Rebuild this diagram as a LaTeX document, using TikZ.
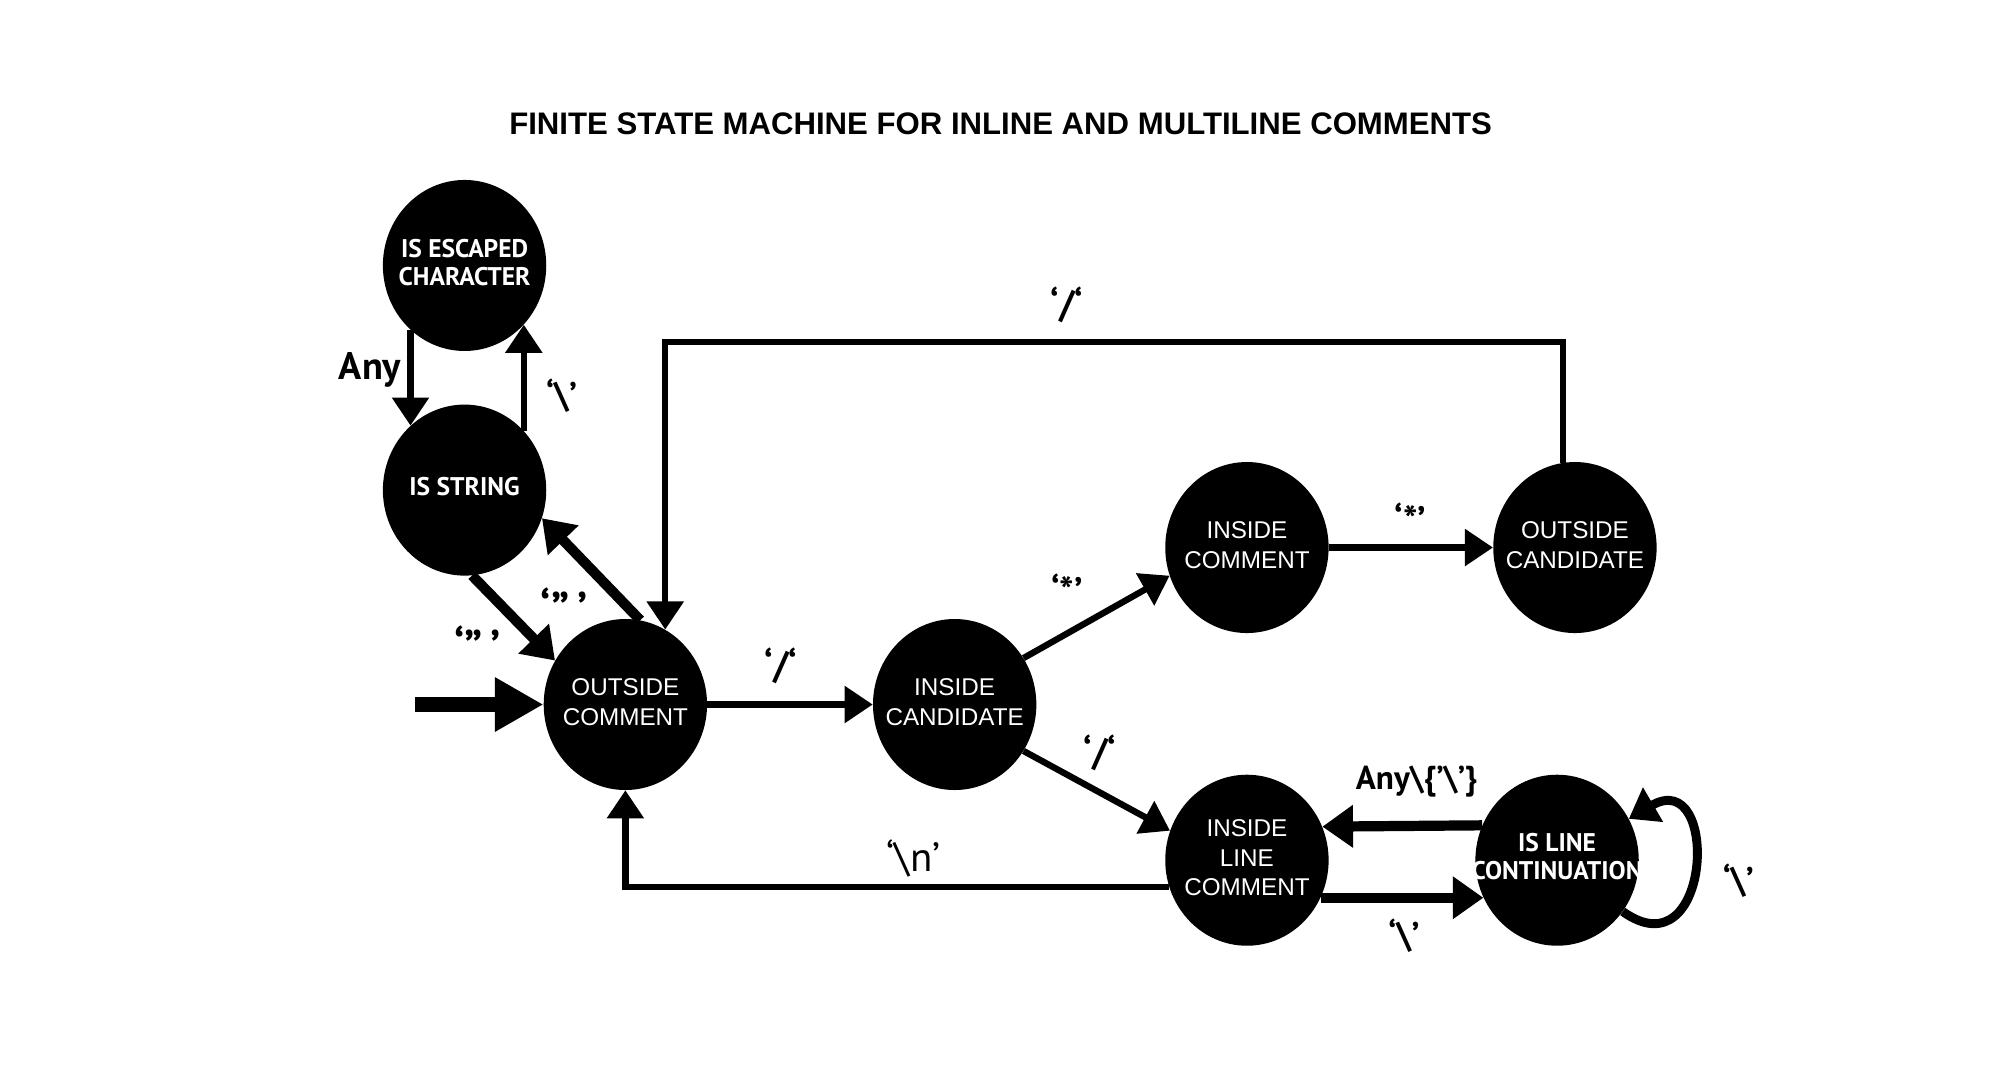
\documentclass[tikz,border=0pt]{standalone}
\usepackage{fontspec}
\setmainfont{Liberation Sans}
\newfontfamily\myr{PT Sans}
\usetikzlibrary{shapes.geometric,arrows.meta,calc}
\newcommand\zt[1]{\makebox[0pt]{\begin{tabular}{@{}c@{}}#1\end{tabular}}}
\tikzset{
  state/.style={ellipse,fill=black,text=white,minimum width=128pt,minimum height=134pt,inner sep=0pt,font=\fontsize{19}{23}\selectfont},
  stateb/.style={state,font=\myr\bfseries\fontsize{20}{22}\selectfont},
  edge/.style={line width=5pt,-{Triangle[length=22pt,width=28pt]}},
  thick edge/.style={line width=8pt,-{Triangle[length=24pt,width=32pt]}},
  lbl/.style={font=\myr\bfseries\fontsize{28}{30}\selectfont,inner sep=0pt},
  slbl/.style={font=\myr\bfseries\fontsize{30}{32}\selectfont,inner sep=0pt},
  qlbl/.style={font=\myr\bfseries\fontsize{36}{38}\selectfont,inner sep=0pt},
}
\begin{document}
\begin{tikzpicture}[x=1pt,y=-1pt]
\useasboundingbox[fill=white] (0,0) rectangle (1560,846.2);
\node[font=\bfseries\fontsize{24.4}{26}\selectfont,inner sep=0pt] (title) at (784,97) {FINITE STATE MACHINE FOR INLINE AND MULTILINE COMMENTS};

\node[stateb] (esc) at (364,208) {\zt{IS ESCAPED\\CHARACTER}};
\node[stateb] (str) at (364,384) {\zt{IS STRING}};
\node[state] (oc) at (490,552) {\zt{OUTSIDE\\COMMENT}};
\node[state] (ic) at (748,552) {\zt{INSIDE\\CANDIDATE}};
\node[state] (inc) at (977,429) {\zt{INSIDE\\COMMENT}};
\node[state] (ocd) at (1234,429) {\zt{OUTSIDE\\CANDIDATE}};
\node[state] (ilc) at (977,674) {\zt{INSIDE\\LINE\\COMMENT}};
\node[stateb] (isl) at (1220,674) {\zt{IS LINE\\CONTINUATION}};

\coordinate (start) at (325,552);
\draw[line width=12pt,-{Triangle[length=38pt,width=40pt]}] (start) -- (oc.west);

\draw[edge] (esc.230) -- (str.130);
\node[lbl,font=\myr\bfseries\fontsize{30}{32}\selectfont] (lany) at (290,290) {Any};
\draw[edge] (str.45) -- (esc.315);
\node[lbl] (lbs1) at (440,310) {‘\textbackslash’};

\draw[thick edge] (str.275) -- (oc.148);
\node[qlbl] (lq1) at (374,505) {‘”\,’};
\draw[thick edge] (oc.80) -- (str.-20);
\node[qlbl] (lq2) at (442,475) {‘”\,’};

\draw[edge] (oc) -- (ic);
\node[slbl] (ls1) at (612,522) {‘/‘};

\draw[edge] (ic.34) -- (inc.200);
\node[slbl] (lst1) at (836,462) {‘*’};
\draw[edge] (ic.-34) -- (ilc.159);
\node[slbl] (ls2) at (862,590) {‘/‘};

\draw[edge] (inc) -- (ocd);
\node[slbl] (lst2) at (1105,406) {‘*’};

\coordinate (topy) at (0,268);
\draw[edge] (ocd.98) |- (topy -| oc.62) -- (oc.62);
\node[slbl] (ls3) at (836,239) {‘/‘};

\draw[edge] (ilc.199) -| (oc.south);
\node[font=\myr\fontsize{32}{34}\selectfont,inner sep=0pt] (ln) at (716,673) {‘\textbackslash n’};

\draw[thick edge] (isl.155) -- (ilc.24);
\node[lbl,font=\myr\bfseries\fontsize{26}{28}\selectfont] (lany2) at (1110,612) {Any\textbackslash\{’\textbackslash’\}};
\draw[thick edge] (ilc.-27) -- (isl.-153);
\node[lbl] (lbs2) at (1100,733) {‘\textbackslash’};

\draw[line width=7pt,-{Triangle[length=22pt,width=30pt]}] (isl.-38) .. controls +(70,50) and +(72,-42) .. (isl.30);
\node[lbl] (lbs3) at (1362,690) {‘\textbackslash’};
\end{tikzpicture}
\end{document}
